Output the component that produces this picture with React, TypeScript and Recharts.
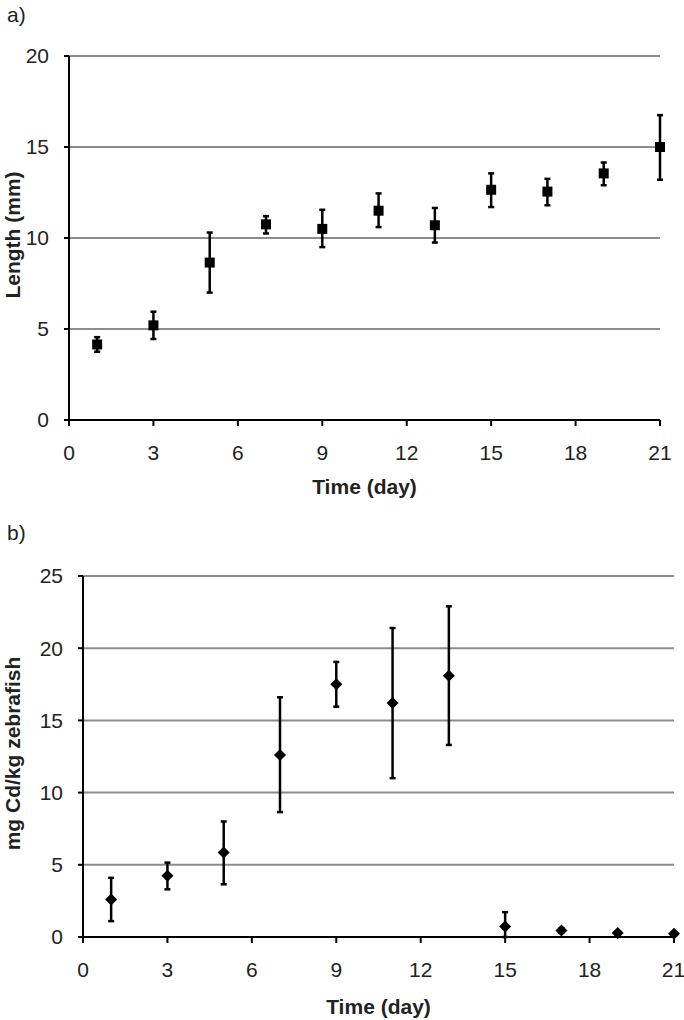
import React from 'react';
import { ScatterChart, Scatter, XAxis, YAxis, CartesianGrid, ErrorBar } from 'recharts';

const FONT = "'Liberation Sans', Arial, sans-serif";

const days = [1, 3, 5, 7, 9, 11, 13, 15, 17, 19, 21];
const dayTicks = [0, 3, 6, 9, 12, 15, 18, 21];

// a) body length (mm)
const lengthMean = [4.15, 5.2, 8.65, 10.75, 10.5, 11.5, 10.7, 12.65, 12.55, 13.55, 15.0];
const lengthLow = [3.75, 4.45, 7.0, 10.25, 9.5, 10.6, 9.75, 11.7, 11.8, 12.9, 13.2];
const lengthHigh = [4.55, 5.95, 10.3, 11.2, 11.55, 12.45, 11.65, 13.55, 13.25, 14.15, 16.75];
const lengthTicks = [0, 5, 10, 15, 20];

// b) cadmium body burden (mg Cd/kg)
const cdMean = [2.6, 4.25, 5.85, 12.6, 17.5, 16.2, 18.1, 0.72, 0.45, 0.28, 0.22];
const cdLow = [1.1, 3.3, 3.65, 8.65, 15.95, 11.0, 13.3, 0.0, 0.3, 0.18, 0.15];
const cdHigh = [4.1, 5.15, 8.0, 16.6, 19.05, 21.4, 22.9, 1.72, 0.6, 0.38, 0.3];
const cdTicks = [0, 5, 10, 15, 20, 25];

const buildRows = (mean: number[], low: number[], high: number[]) =>
  days.map((d, i) => ({ day: d, value: mean[i], err: [mean[i] - low[i], high[i] - mean[i]] }));

const lengthRows = buildRows(lengthMean, lengthLow, lengthHigh);
const cdRows = buildRows(cdMean, cdLow, cdHigh);

const tickStyle = { fontSize: 21, fill: '#222', fontFamily: FONT };

const SquareDot = (props: any) => {
  const { cx, cy } = props;
  if (cx == null || cy == null) return null;
  return <rect x={cx - 5} y={cy - 5} width={10} height={10} fill="#000" />;
};

const DiamondDot = (props: any) => {
  const { cx, cy } = props;
  if (cx == null || cy == null) return null;
  return <polygon points={`${cx},${cy - 6} ${cx + 6},${cy} ${cx},${cy + 6} ${cx - 6},${cy}`} fill="#000" />;
};

const yTitle = (text: string) => (p: any) => {
  const vb = p.viewBox || {};
  const cy = vb.y + vb.height / 2 - 3;
  return (
    <text x={12} y={cy} transform={`rotate(-90, 12, ${cy})`} textAnchor="middle" dominantBaseline="central"
      style={{ fontFamily: FONT, fontSize: 21, fontWeight: 700, fill: '#222' }}>
      {text}
    </text>
  );
};

const xTitle = (text: string, y: number) => (p: any) => {
  const vb = p.viewBox || {};
  return (
    <text x={vb.x + vb.width / 2} y={y} textAnchor="middle"
      style={{ fontFamily: FONT, fontSize: 21, fontWeight: 700, fill: '#222' }}>
      {text}
    </text>
  );
};

const App: React.FC = () => {
  return (
    <div style={{ position: 'absolute', left: 0, top: 0, width: 684, height: 1020, background: '#fff' }}>
      <div style={{ position: 'absolute', left: 7, top: 3, fontFamily: FONT, fontSize: 21, color: '#222' }}>a)</div>
      <div style={{ position: 'absolute', left: 7, top: 521, fontFamily: FONT, fontSize: 21, color: '#222' }}>b)</div>

      <div style={{ position: 'absolute', left: 0, top: 0 }}>
        <ScatterChart width={684} height={500} margin={{ top: 56, right: 24, bottom: 0, left: 0 }}>
          <CartesianGrid vertical={false} stroke="#8c8c8c" strokeWidth={2} />
          <XAxis type="number" dataKey="day" domain={[0, 21]} ticks={dayTicks} height={80}
            axisLine={{ stroke: '#000', strokeWidth: 2 }} tickLine={{ stroke: '#000', strokeWidth: 2 }}
            tickSize={6} tickMargin={19} tick={tickStyle} label={xTitle('Time (day)', 494)} />
          <YAxis type="number" dataKey="value" domain={[0, 20]} ticks={lengthTicks} width={69}
            axisLine={{ stroke: '#000', strokeWidth: 2 }} tickLine={{ stroke: '#000', strokeWidth: 2 }}
            tickSize={5} tickMargin={15} tick={tickStyle} label={yTitle('Length (mm)')} />
          <Scatter data={lengthRows} fill="#000" shape={SquareDot} isAnimationActive={false}>
            <ErrorBar dataKey="err" direction="y" width={3} strokeWidth={2.5} stroke="#000" isAnimationActive={false} />
          </Scatter>
        </ScatterChart>
      </div>

      <div style={{ position: 'absolute', left: 0, top: 500 }}>
        <ScatterChart width={684} height={520} margin={{ top: 76, right: 10, bottom: 3, left: 0 }}>
          <CartesianGrid vertical={false} stroke="#8c8c8c" strokeWidth={2} />
          <XAxis type="number" dataKey="day" domain={[0, 21]} ticks={dayTicks} height={80}
            axisLine={{ stroke: '#000', strokeWidth: 2 }} tickLine={{ stroke: '#000', strokeWidth: 2 }}
            tickSize={6} tickMargin={19} tick={tickStyle} label={xTitle('Time (day)', 514)} />
          <YAxis type="number" dataKey="value" domain={[0, 25]} ticks={cdTicks} width={83}
            axisLine={{ stroke: '#000', strokeWidth: 2 }} tickLine={{ stroke: '#000', strokeWidth: 2 }}
            tickSize={5} tickMargin={15} tick={tickStyle} label={yTitle('mg Cd/kg zebrafish')} />
          <Scatter data={cdRows} fill="#000" shape={DiamondDot} isAnimationActive={false}>
            <ErrorBar dataKey="err" direction="y" width={3} strokeWidth={2.5} stroke="#000" isAnimationActive={false} />
          </Scatter>
        </ScatterChart>
      </div>
    </div>
  );
};

export default App;
